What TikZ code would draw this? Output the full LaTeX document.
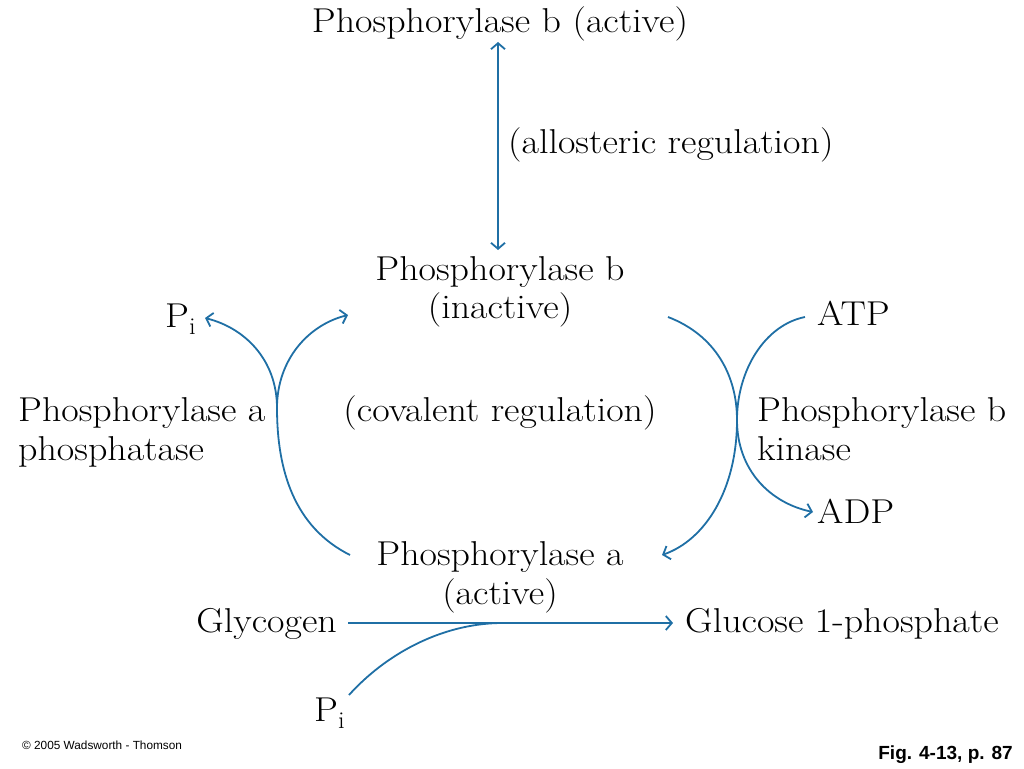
\documentclass[tikz,border=0pt]{standalone}
\usepackage{fontspec}
\usepackage{graphicx}
\newfontfamily\arialfont{Liberation Sans}
\usetikzlibrary{arrows.meta}
\definecolor{arrowblue}{RGB}{31,111,165}
\newcommand{\widetxt}[1]{\scalebox{1.1}[1]{#1}}
\begin{document}
\begin{tikzpicture}[x=1pt,y=-1pt,
  lbl/.style={inner sep=0pt, font=\fontsize{34.5}{40}\selectfont},
  line/.style={draw=arrowblue, line width=1.8pt},
  flow/.style={line, -{Straight Barb[length=6pt,width=14pt,line width=1.8pt]}},
  dflow/.style={line, {Straight Barb[length=6pt,width=14pt,line width=1.8pt]}-{Straight Barb[length=6pt,width=14pt,line width=1.8pt]}}]
\useasboundingbox (0,0) rectangle (1024,768);
% texts
\node[lbl, anchor=base] (pbact) at (500,33) {\widetxt{Phosphorylase b (active)}};
\node[lbl, anchor=base west] (allo) at (508,153) {\widetxt{(allosteric regulation)}};
\node[lbl, anchor=base] (pbin1) at (500,280) {\widetxt{Phosphorylase b}};
\node[lbl, anchor=base] (pbin2) at (500,318) {\widetxt{(inactive)}};
\node[lbl, anchor=base west] (pitop) at (165,327) {\widetxt{P\textsubscript{i}}};
\node[lbl, anchor=base west] (phos1) at (18,421) {\widetxt{Phosphorylase a}};
\node[lbl, anchor=base west] (phos2) at (18,460) {\widetxt{phosphatase}};
\node[lbl, anchor=base] (cov) at (500,421) {\widetxt{(covalent regulation)}};
\node[lbl, anchor=base west] (atp) at (817,325) {\widetxt{ATP}};
\node[lbl, anchor=base west] (kin1) at (757,421) {\widetxt{Phosphorylase b}};
\node[lbl, anchor=base west] (kin2) at (757,460) {\widetxt{kinase}};
\node[lbl, anchor=base west] (adp) at (817,523) {\widetxt{ADP}};
\node[lbl, anchor=base] (paact1) at (500,565) {\widetxt{Phosphorylase a}};
\node[lbl, anchor=base] (paact2) at (500,604) {\widetxt{(active)}};
\node[lbl, anchor=base east] (glyc) at (337,632) {\widetxt{Glycogen}};
\node[lbl, anchor=base west] (gluc) at (685,632) {\widetxt{Glucose 1-phosphate}};
\node[lbl, anchor=base west] (pibot) at (314,721) {\widetxt{P\textsubscript{i}}};
\node[inner sep=0pt, anchor=base west, font=\arialfont\fontsize{11.8}{13}\selectfont] (copy) at (22,749) {© 2005 Wadsworth - Thomson};
\node[inner sep=0pt, anchor=base east, font=\arialfont\bfseries\fontsize{19}{22}\selectfont] (fig) at (1013,759) {Fig. 4-13, p. 87};
% allosteric arrow
\draw[dflow] ([xshift=-2pt,yshift=-9pt]pbact.base) -- ([xshift=-2pt,yshift=30pt]pbin1.base);
% left (phosphatase) curves
\coordinate (Lj) at (277,408);
\coordinate (Lstart) at (350,555);
\coordinate (Lpi) at (205,318);
\coordinate (Lpb) at (348,315);
\draw[line] (Lstart) .. controls (294,527) and (277,470) .. (Lj);
\draw[flow] (Lj) .. controls (277,360) and (245,328) .. (Lpi);
\draw[flow] (Lj) .. controls (277,360) and (308,325) .. (Lpb);
% right (kinase) curves
\coordinate (Rj) at (737,420);
\coordinate (Rstart) at (668,317);
\coordinate (Ratp) at (805,317);
\coordinate (Rpa) at (662,555);
\coordinate (Radp) at (813,512);
\draw[line] (Rstart) .. controls (715,335) and (737,375) .. (Rj);
\draw[flow] (Rj) .. controls (737,490) and (705,540) .. (Rpa);
\draw[line] (Ratp) .. controls (765,325) and (737,370) .. (Rj);
\draw[flow] (Rj) .. controls (737,470) and (770,503) .. (Radp);
% glycogen reaction
\draw[flow] ([shift={(11,-9)}]glyc.base east) -- ([shift={(-12,-9)}]gluc.base west);
\coordinate (Bstart) at (349,695);
\coordinate (Bend) at (500,623);
\draw[line] (Bstart) .. controls (385,655) and (440,624) .. (Bend);
\end{tikzpicture}
\end{document}
